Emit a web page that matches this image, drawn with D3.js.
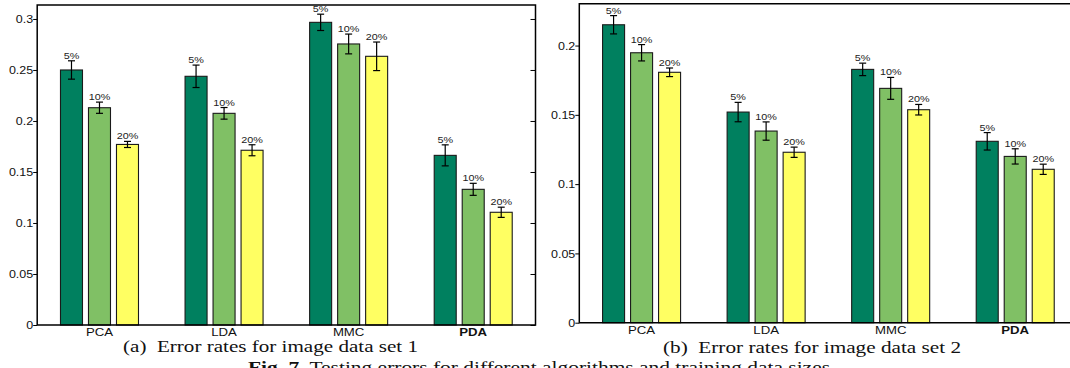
<!DOCTYPE html>
<html><head><meta charset="utf-8">
<script src="https://cdn.jsdelivr.net/npm/d3@7"></script>
<style>body{margin:0;background:#fff}svg{display:block}text{white-space:pre}</style>
</head><body>
<svg id="c" width="1070" height="368"></svg>
<script>
// ---------- data ----------
const categories = ["PCA", "LDA", "MMC", "PDA"];
const seriesLabels = ["5%", "10%", "20%"];

// image data set 1
const set1_5  = [0.250, 0.2438, 0.2967, 0.1663];
const set1_10 = [0.213, 0.2075, 0.2755, 0.1330];
const set1_20 = [0.177, 0.1713, 0.2634, 0.1105];
const err1_5  = [0.0090, 0.0110, 0.0080, 0.0103];
const err1_10 = [0.0055, 0.0057, 0.0097, 0.0059];
const err1_20 = [0.0030, 0.0054, 0.0140, 0.0050];

// image data set 2
const set2_5  = [0.2150, 0.1520, 0.1828, 0.1309];
const set2_10 = [0.1948, 0.1383, 0.1691, 0.1200];
const set2_20 = [0.1807, 0.1230, 0.1537, 0.1107];
const err2_5  = [0.0066, 0.0070, 0.0045, 0.0063];
const err2_10 = [0.0059, 0.0066, 0.0079, 0.0055];
const err2_20 = [0.0031, 0.0037, 0.0038, 0.0037];

const yTicks1 = [0, 0.05, 0.1, 0.15, 0.2, 0.25, 0.3];
const yTicks2 = [0, 0.05, 0.1, 0.15, 0.2];
const yTickLabels1 = ["0", "0.05", "0.1", "0.15", "0.2", "0.25", "0.3"];
const yTickLabels2 = ["0", "0.05", "0.1", "0.15", "0.2"];

const caption1 = "(a)  Error rates for image data set 1";
const caption2 = "(b)  Error rates for image data set 2";
const figLabel = "Fig. 7.";
const figText = " Testing errors for different algorithms and training data sizes";

// ---------- styles ----------
const colors = ["#00805f", "#80c065", "#ffff62"];
const SANS = "Liberation Sans, Arial, Helvetica, sans-serif";
const SERIF = "Liberation Serif, Times New Roman, serif";

const svg = d3.select("#c");

function drawPanel(cfg) {
  const g = svg.append("g");
  const x = d3.scaleBand().domain(categories).range([cfg.x0, cfg.x1]).padding(0);
  const inner = d3.scaleBand().domain(seriesLabels)
    .range([x.bandwidth() / 2 - 42, x.bandwidth() / 2 + 42])
    .paddingInner(0.214).paddingOuter(0.107);
  const y = d3.scaleLinear().domain([0, cfg.yMax]).range([cfg.yBottom, cfg.yTop]);

  const rows = [];
  categories.forEach((c, i) => {
    seriesLabels.forEach((s, j) => {
      rows.push({cat: c, ser: s, j: j, v: cfg.vals[j][i], e: cfg.errs[j][i]});
    });
  });

  // bars
  g.selectAll("rect.bar").data(rows).enter().append("rect")
    .attr("class", "bar")
    .attr("x", d => x(d.cat) + inner(d.ser))
    .attr("width", inner.bandwidth())
    .attr("y", d => y(d.v))
    .attr("height", d => y(0) - y(d.v))
    .attr("fill", d => colors[d.j])
    .attr("stroke", "#1a1a1a").attr("stroke-width", 1.1);

  // error bars
  const cx = d => x(d.cat) + inner(d.ser) + inner.bandwidth() / 2;
  const eb = g.selectAll("g.err").data(rows).enter().append("g").attr("class", "err")
    .attr("stroke", "#000").attr("stroke-width", 1.2);
  eb.append("line").attr("x1", cx).attr("x2", cx)
    .attr("y1", d => y(d.v - d.e)).attr("y2", d => y(d.v + d.e));
  eb.append("line").attr("x1", d => cx(d) - 3.5).attr("x2", d => cx(d) + 3.5)
    .attr("y1", d => y(d.v + d.e)).attr("y2", d => y(d.v + d.e));
  eb.append("line").attr("x1", d => cx(d) - 3.5).attr("x2", d => cx(d) + 3.5)
    .attr("y1", d => y(d.v - d.e)).attr("y2", d => y(d.v - d.e));

  // bar labels
  g.selectAll("text.bl").data(rows).enter().append("text")
    .attr("class", "bl")
    .attr("transform", d => `translate(${cx(d)},${y(d.v + d.e) - 2}) scale(1.2,1)`)
    .attr("text-anchor", "middle")
    .attr("font-family", SANS).attr("font-size", 9).attr("fill", "#222")
    .text(d => d.ser);

  // y axis (left)
  const ya = g.append("g").attr("transform", `translate(${cfg.x0},0)`)
    .call(d3.axisLeft(y).tickValues(cfg.ticks).tickSize(4).tickPadding(3)
      .tickFormat((d, i) => cfg.tickLabels[i]));
  ya.select(".domain").remove();
  ya.selectAll(".tick line").attr("stroke", "#000").attr("stroke-width", 1);
  ya.selectAll(".tick text")
    .attr("x", null).attr("dy", null)
    .attr("transform", "translate(-4,3.6) scale(1.25,1)")
    .attr("font-family", SANS).attr("font-size", 10).attr("fill", "#111");

  // right-side ticks
  if (cfg.rightTicks) {
    const ra = g.append("g").attr("transform", `translate(${cfg.x1},0)`)
      .call(d3.axisLeft(y).tickValues(cfg.ticks).tickSize(5).tickFormat(""));
    ra.select(".domain").remove();
    ra.selectAll(".tick line").attr("x2", -5).attr("stroke", "#000");
  }

  // x axis labels
  const xa = g.append("g").attr("transform", `translate(0,${cfg.yBottom})`)
    .call(d3.axisBottom(x).tickSize(0).tickPadding(0));
  xa.select(".domain").remove();
  xa.selectAll(".tick text")
    .attr("y", null).attr("dy", null)
    .attr("transform", "translate(0,11) scale(1.2,1)")
    .attr("font-family", SANS).attr("font-size", 11).attr("fill", "#111")
    .attr("font-weight", d => d === "PDA" ? "bold" : "normal");

  // frame
  g.append("path")
    .attr("d", `M${cfg.x0},${cfg.yTop}H${cfg.x1}V${cfg.yBottom}H${cfg.x0}Z`)
    .attr("fill", "none").attr("stroke", "#000").attr("stroke-width", 1.5);

  // caption
  svg.append("text")
    .attr("x", cfg.capX).attr("y", cfg.capY)
    .attr("textLength", cfg.capW).attr("lengthAdjust", "spacingAndGlyphs")
    .attr("font-family", SERIF).attr("font-size", 17).attr("fill", "#111")
    .text(cfg.caption);
}

drawPanel({
  x0: 37.2, x1: 535.5, yTop: 5, yBottom: 325, yMax: 0.3137,
  ticks: yTicks1, tickLabels: yTickLabels1,
  vals: [set1_5, set1_10, set1_20], errs: [err1_5, err1_10, err1_20],
  rightTicks: true,
  caption: caption1, capX: 123, capY: 352, capW: 295
});
drawPanel({
  x0: 579.3, x1: 1077.5, yTop: 3.7, yBottom: 322.7, yMax: 0.2302,
  ticks: yTicks2, tickLabels: yTickLabels2,
  vals: [set2_5, set2_10, set2_20], errs: [err2_5, err2_10, err2_20],
  rightTicks: false,
  caption: caption2, capX: 663, capY: 353, capW: 298
});

// figure caption (cut off at bottom)
const ft = svg.append("text")
  .attr("x", 248).attr("y", 373)
  .attr("textLength", 582).attr("lengthAdjust", "spacingAndGlyphs")
  .attr("font-family", SERIF).attr("font-size", 17).attr("fill", "#111");
ft.append("tspan").attr("font-weight", "bold").text(figLabel);
ft.append("tspan").text(figText);
</script>
</body></html>
